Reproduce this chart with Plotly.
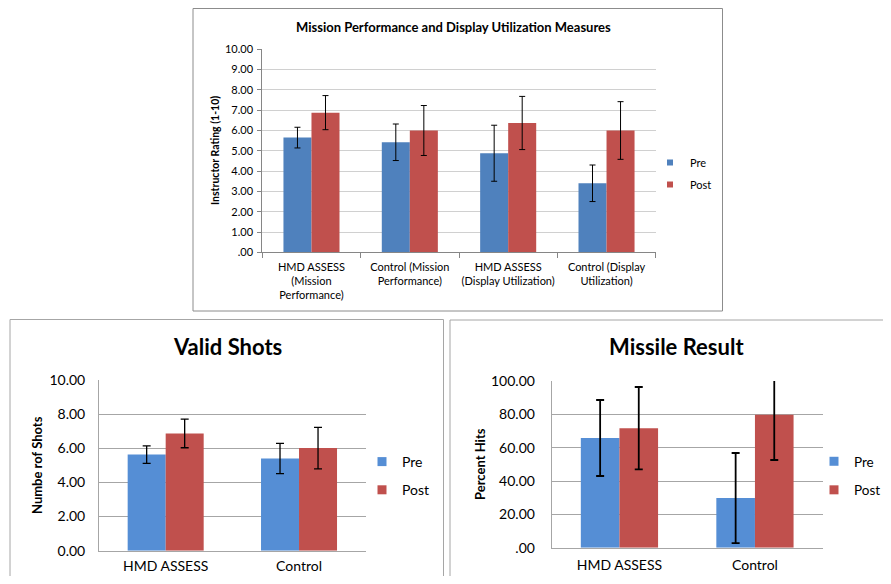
import plotly.graph_objects as go

# The page body keeps the browser's default 8px margin, so the figure is sized to fit
# inside the 891x584 window without overflow, and reference pixels are shifted by that margin.
WIN_W, WIN_H, PAGE_MARGIN = 891, 584, 8
W, H = WIN_W - 2 * PAGE_MARGIN, WIN_H - 2 * PAGE_MARGIN

# ---------------- data ----------------
top_categories = ["HMD ASSESS<br>(Mission<br>Performance)", "Control (Mission<br>Performance)",
                  "HMD ASSESS<br>(Display Utilization)", "Control (Display<br>Utilization)"]
top_pre = [5.65, 5.42, 4.88, 3.40]
top_pre_err = [0.51, 0.90, 1.38, 0.90]
top_post = [6.88, 6.00, 6.37, 6.00]
top_post_err = [0.84, 1.23, 1.31, 1.42]
top_tickvals = [0, 1, 2, 3, 4, 5, 6, 7, 8, 9, 10]
top_ticktext = [".00", "1.00", "2.00", "3.00", "4.00", "5.00", "6.00", "7.00", "8.00", "9.00", "10.00"]

shots_categories = ["HMD ASSESS", "Control"]
shots_pre = [5.63, 5.40]
shots_pre_err = [0.51, 0.89]
shots_post = [6.87, 6.01]
shots_post_err = [0.84, 1.22]
shots_tickvals = [0, 2, 4, 6, 8, 10]
shots_ticktext = ["0.00", "2.00", "4.00", "6.00", "8.00", "10.00"]

missile_categories = ["HMD ASSESS", "Control"]
missile_pre = [65.8, 29.8]
missile_pre_err = [22.8, 27.0]
missile_post = [71.7, 79.8]
missile_post_err = [24.7, 27.2]
missile_tickvals = [0, 20, 40, 60, 80, 100]
missile_ticktext = [".00", "20.00", "40.00", "60.00", "80.00", "100.00"]

series_names = ["Pre", "Post"]

FONT = "Lato"
BLUE_TOP, RED = "#4F81BD", "#C0504D"
BLUE_BOT = "#558ED5"


def px_x(v):
    return (v - PAGE_MARGIN) / W


def px_y(v):
    return 1 - (v - PAGE_MARGIN) / H


fig = go.Figure()


def add_pair(cats, pre, pre_e, post, post_e, xa, ya, blue, legend, ew, ethick, msize):
    for name, vals, errs, col in [(series_names[0], pre, pre_e, blue), (series_names[1], post, post_e, RED)]:
        fig.add_trace(go.Bar(
            x=cats, y=vals, name=name, marker=dict(color=col, line=dict(width=0)),
            error_y=dict(type="data", array=errs, visible=True, color="#000000",
                         thickness=ethick, width=ew),
            xaxis=xa, yaxis=ya, showlegend=False, hoverinfo="x+y"))
    for name, col in [(series_names[0], blue), (series_names[1], RED)]:
        fig.add_trace(go.Scatter(
            x=[None], y=[None], mode="markers", name=name, legend=legend, legendgroup=legend + name,
            marker=dict(symbol="square", size=msize, color=col), xaxis=xa, yaxis=ya, showlegend=True))


add_pair(top_categories, top_pre, top_pre_err, top_post, top_post_err, "x", "y", BLUE_TOP, "legend", 3, 1, 6)
add_pair(shots_categories, shots_pre, shots_pre_err, shots_post, shots_post_err, "x2", "y2", BLUE_BOT, "legend2", 4, 1.3, 9)
add_pair(missile_categories, missile_pre, missile_pre_err, missile_post, missile_post_err, "x3", "y3", BLUE_BOT, "legend3", 4, 1.8, 9)

AX = "#868686"

fig.update_layout(
    width=W, height=H, margin=dict(l=0, r=0, t=0, b=0, autoexpand=False),
    paper_bgcolor="white", plot_bgcolor="white",
    font=dict(family=FONT, color="#000000"),
    barmode="group", showlegend=True,
    xaxis=dict(domain=[px_x(262.3), px_x(655.7)], anchor="y", type="category", tickangle=0,
               showline=True, linecolor=AX, ticks="outside", tickson="boundaries", ticklen=5,
               tickcolor=AX, showgrid=False, tickfont=dict(size=11), ticklabelstandoff=4),
    yaxis=dict(domain=[px_y(252.3), px_y(49.3)], anchor="x", range=[0, 10],
               tickvals=top_tickvals, ticktext=top_ticktext, showgrid=True, gridcolor="#D0D0D0",
               showline=True, linecolor=AX, ticks="outside", ticklen=4, tickcolor=AX,
               zeroline=False, tickfont=dict(size=11), ticklabelstandoff=2),
    xaxis2=dict(domain=[px_x(99), px_x(365.7)], anchor="y2", type="category", tickangle=0,
                showline=True, linecolor="#A6A6A6", ticks="", showgrid=False, tickfont=dict(size=14),
                ticklabelstandoff=2),
    yaxis2=dict(domain=[px_y(550.7), px_y(380)], anchor="x2", range=[0, 10],
                tickvals=shots_tickvals, ticktext=shots_ticktext, showgrid=True, gridcolor="#A6A6A6",
                showline=True, linecolor="#A6A6A6", ticks="", zeroline=False,
                tickfont=dict(size=14), ticklabelstandoff=10),
    xaxis3=dict(domain=[px_x(551.7), px_x(822.7)], anchor="y3", type="category", tickangle=0,
                showline=True, linecolor="#A6A6A6", ticks="", showgrid=False, tickfont=dict(size=14),
                ticklabelstandoff=4),
    yaxis3=dict(domain=[px_y(547.7), px_y(381)], anchor="x3", range=[0, 100],
                tickvals=missile_tickvals, ticktext=missile_ticktext, showgrid=True, gridcolor="#A6A6A6",
                showline=True, linecolor="#A6A6A6", ticks="", zeroline=False,
                tickfont=dict(size=14), ticklabelstandoff=13),
    bargap=0.43, bargroupgap=0,
    legend=dict(x=px_x(650), y=px_y(148), xanchor="left", yanchor="top", font=dict(size=11),
                bgcolor="rgba(0,0,0,0)", traceorder="grouped", tracegroupgap=3),
    legend2=dict(x=px_x(362), y=px_y(446), xanchor="left", yanchor="top", font=dict(size=14),
                 bgcolor="rgba(0,0,0,0)", traceorder="grouped", tracegroupgap=7),
    legend3=dict(x=px_x(814), y=px_y(446), xanchor="left", yanchor="top", font=dict(size=13.5),
                 bgcolor="rgba(0,0,0,0)", traceorder="grouped", tracegroupgap=8),
)

# panel frames
fig.add_shape(type="rect", xref="paper", yref="paper", x0=px_x(193), x1=px_x(722.5),
              y0=px_y(311), y1=px_y(8.5), line=dict(color="#8C8C8C", width=1), layer="below")
fig.add_shape(type="rect", xref="paper", yref="paper", x0=px_x(10), x1=px_x(443.5),
              y0=-0.02, y1=px_y(319.5), line=dict(color="#A6A6A6", width=1), layer="below")
fig.add_shape(type="rect", xref="paper", yref="paper", x0=px_x(450), x1=1.02,
              y0=-0.02, y1=px_y(320), line=dict(color="#A6A6A6", width=1), layer="below")

# titles
fig.add_annotation(text="<b>Mission Performance and Display Utilization Measures</b>", xref="paper", yref="paper",
                   x=px_x(453), y=px_y(26.7), showarrow=False, font=dict(size=13), xanchor="center", yanchor="middle")
fig.add_annotation(text="<b>Valid Shots</b>", xref="paper", yref="paper",
                   x=px_x(227), y=px_y(346.7), showarrow=False, font=dict(size=22), xanchor="center", yanchor="middle")
fig.add_annotation(text="<b>Missile Result</b>", xref="paper", yref="paper",
                   x=px_x(676), y=px_y(346.7), showarrow=False, font=dict(size=22), xanchor="center", yanchor="middle")

# axis titles
fig.add_annotation(text="<b>Instructor Rating (1-10)</b>", xref="paper", yref="paper", textangle=-90,
                   x=px_x(215), y=px_y(151), showarrow=False, font=dict(size=10.5), xanchor="center", yanchor="middle")
fig.add_annotation(text="<b>Numbe rof Shots</b>", xref="paper", yref="paper", textangle=-90,
                   x=px_x(37), y=px_y(465), showarrow=False, font=dict(size=13), xanchor="center", yanchor="middle")
fig.add_annotation(text="<b>Percent Hits</b>", xref="paper", yref="paper", textangle=-90,
                   x=px_x(480), y=px_y(464), showarrow=False, font=dict(size=13), xanchor="center", yanchor="middle")

fig.write_html("out.html", config={"displayModeBar": False})
